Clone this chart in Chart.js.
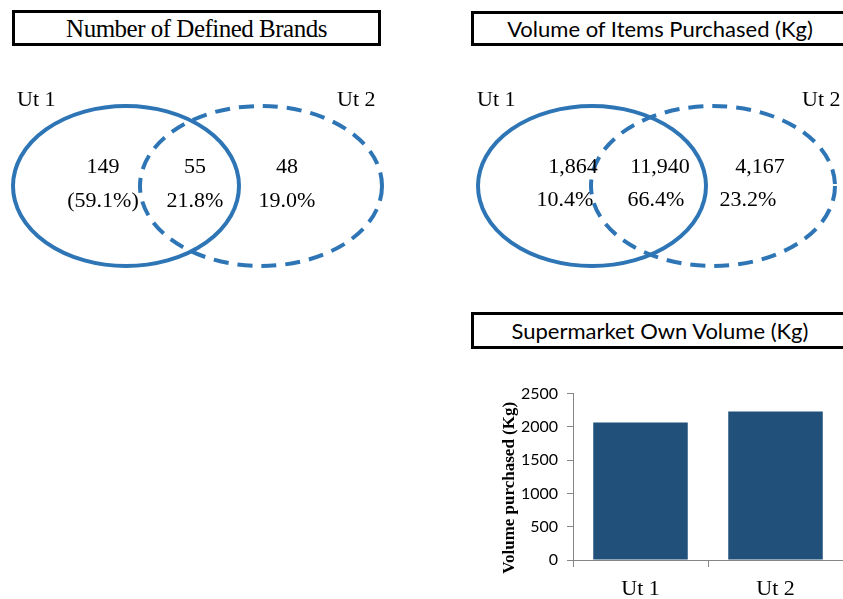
<!DOCTYPE html>
<html>
<head>
<meta charset="utf-8">
<script src="https://cdn.jsdelivr.net/npm/chart.js@4.4.1/dist/chart.umd.min.js"></script>
<style>
  html, body { margin: 0; padding: 0; background: #fff; }
  body { width: 843px; height: 599px; position: relative; overflow: hidden; }
  .box {
    position: absolute; box-sizing: border-box; border: 3px solid #000;
    display: flex; align-items: center; justify-content: center;
    white-space: nowrap; color: #000;
  }
  .serif { font-family: "Liberation Serif", "Times New Roman", serif; font-size: 25px; letter-spacing: -0.5px; padding-top: 2px; }
  .sans { font-family: Lato, "Liberation Sans", sans-serif; font-size: 22px; }
  canvas { position: absolute; }
</style>
</head>
<body>
<div class="box serif" style="left:12px;top:10px;width:369px;height:36px;">Number of Defined Brands</div>
<div class="box sans" style="left:471px;top:11px;width:378px;height:35px;">Volume of Items Purchased (Kg)</div>
<div class="box sans" style="left:471px;top:312px;width:378px;height:37px;">Supermarket Own Volume (Kg)</div>

<canvas id="brandVenn" width="430" height="230" style="left:0;top:60px;"></canvas>
<canvas id="volumeVenn" width="413" height="230" style="left:430px;top:60px;"></canvas>
<canvas id="ownChart" width="373" height="224" style="left:470px;top:375px;"></canvas>

<script>
// ─── Data ───
const setNames = ['Ut 1', 'Ut 2'];
const brandCounts = [149, 55, 48];          // Ut 1 only, both, Ut 2 only
const volumeCounts = [1864, 11940, 4167];   // Ut 1 only, both, Ut 2 only
const ownLabels = ['Ut 1', 'Ut 2'];
const ownVolume = [2065, 2230];
const ownTicks = [0, 500, 1000, 1500, 2000, 2500];

const BLUE = '#2E75B6';
const SERIF = '"Liberation Serif", "Times New Roman", serif';

// ─── Venn diagrams (scatter chart with hidden axes, ellipses drawn in scale units) ───
function pct(counts, i) {
    const total = counts.reduce((a, b) => a + b, 0);
    return (counts[i] / total * 100).toFixed(1) + '%';
}

const vennPlugin = {
    id: 'venn',
    afterDraw(chart) {
        const v = chart.options.plugins.venn;
        const { ctx, scales: { x, y } } = chart;
        const px = val => x.getPixelForValue(val);
        const py = val => y.getPixelForValue(val);
        ctx.save();
        ctx.strokeStyle = BLUE;
        ctx.lineWidth = 4;
        // Ut 2 dashed, then Ut 1 solid on top
        [v.right, v.left].forEach((e, k) => {
            ctx.setLineDash(k === 0 ? [15, 9] : []);
            ctx.beginPath();
            ctx.ellipse(px(e.cx), py(e.cy), Math.abs(px(e.cx + e.rx) - px(e.cx)),
                Math.abs(py(e.cy + e.ry) - py(e.cy)), 0, 0, Math.PI * 2);
            ctx.stroke();
        });
        ctx.setLineDash([]);
        ctx.fillStyle = '#000';
        ctx.textBaseline = 'alphabetic';
        ctx.font = '22px ' + SERIF;
        ctx.textAlign = 'left';
        setNames.forEach((n, i) => ctx.fillText(n, px(v.nameX[i]), py(v.nameY)));
        ctx.font = '22px ' + SERIF;
        ctx.textAlign = 'center';
        v.counts.forEach((c, i) => {
            ctx.fillText(c.toLocaleString('en-US'), px(v.countX[i]), py(v.countY));
            let p = pct(v.counts, i);
            if (v.parenFirst && i === 0) p = '(' + p + ')';
            ctx.fillText(p, px(v.pctX[i]), py(v.pctY));
        });
        ctx.restore();
    }
};

function makeVenn(id, xMin, xMax, venn) {
    return new Chart(document.getElementById(id), {
        type: 'scatter',
        data: { datasets: [{ data: [] }] },
        options: {
            responsive: false,
            animation: false,
            layout: { padding: 0 },
            scales: {
                x: { type: 'linear', min: xMin, max: xMax, display: false },
                y: { type: 'linear', min: 60, max: 290, reverse: true, display: false }
            },
            plugins: { legend: { display: false }, tooltip: { enabled: false }, venn }
        },
        plugins: [vennPlugin]
    });
}

makeVenn('brandVenn', 0, 430, {
    counts: brandCounts, parenFirst: true,
    left: { cx: 126, cy: 186, rx: 113, ry: 80 },
    right: { cx: 261, cy: 186, rx: 121, ry: 80 },
    nameX: [17, 337], nameY: 106,
    countX: [103, 195, 287], countY: 173,
    pctX: [103, 195, 287], pctY: 207
});

makeVenn('volumeVenn', 430, 843, {
    counts: volumeCounts, parenFirst: false,
    left: { cx: 592, cy: 186, rx: 114, ry: 80 },
    right: { cx: 713, cy: 186, rx: 122, ry: 80 },
    nameX: [477, 802], nameY: 106,
    countX: [573, 660, 760], countY: 173,
    pctX: [565, 656, 748], pctY: 206
});

// ─── Supermarket own volume bars ───
const AXIS = '#868686';

// y axis title, centred on the text column left of the tick labels
const yTitlePlugin = {
    id: 'yTitle',
    afterDraw(chart) {
        const { ctx, chartArea } = chart;
        ctx.save();
        ctx.translate(40, (chartArea.top + chartArea.bottom) / 2 + 11);
        ctx.rotate(-Math.PI / 2);
        ctx.font = 'bold 17px ' + SERIF;
        ctx.fillStyle = '#000';
        ctx.textAlign = 'center';
        ctx.textBaseline = 'middle';
        ctx.fillText('Volume purchased (Kg)', 0, 0);
        ctx.restore();
    }
};

new Chart(document.getElementById('ownChart'), {
    type: 'bar',
    data: {
        labels: ownLabels,
        datasets: [{
            data: ownVolume,
            backgroundColor: '#21507B',
            barPercentage: 0.7,
            categoryPercentage: 1
        }]
    },
    options: {
        responsive: false,
        animation: false,
        layout: { padding: { top: 18, right: 0, left: 0, bottom: 0 } },
        plugins: { legend: { display: false }, tooltip: { enabled: false } },
        scales: {
            x: {
                afterFit: s => { s.height = 39; },
                grid: { display: true, drawOnChartArea: false, color: AXIS, tickLength: 7, offset: true },
                border: { color: AXIS, width: 1 },
                ticks: { color: '#000', font: { family: SERIF, size: 22 }, padding: 9 }
            },
            y: {
                min: 0, max: 2500,
                afterFit: s => { s.width = 103; },
                afterBuildTicks: s => { s.ticks = ownTicks.map(v => ({ value: v })); },
                grid: { display: true, drawOnChartArea: false, color: AXIS, tickLength: 6 },
                border: { color: AXIS, width: 1 },
                ticks: {
                    color: '#000',
                    font: { family: 'Lato, "Liberation Sans", sans-serif', size: 16 },
                    padding: 9,
                    callback: v => String(v)
                }
            }
        }
    },
    plugins: [yTitlePlugin]
});
</script>
</body>
</html>
